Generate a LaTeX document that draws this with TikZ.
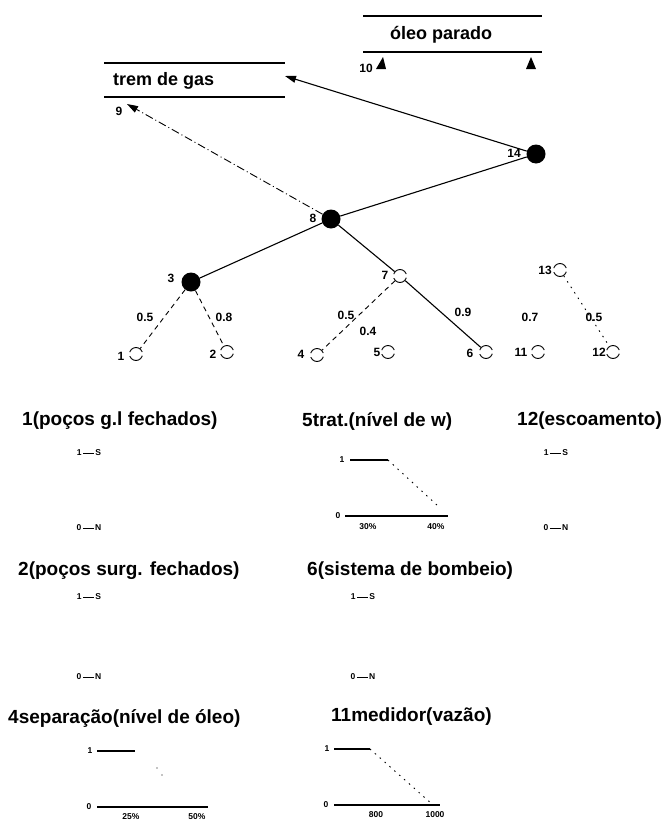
\documentclass[tikz,border=0pt]{standalone}
\usepackage{fontspec}
\setmainfont{Liberation Sans}
\usetikzlibrary{arrows.meta}
\begin{document}
\begin{tikzpicture}[x=1pt,y=-1pt,
  title/.style={font=\fontsize{19}{20}\selectfont\bfseries, anchor=west, inner sep=0},
  boxtext/.style={font=\fontsize{18}{19}\selectfont\bfseries, anchor=west, inner sep=0},
  nlabel/.style={font=\fontsize{12}{12}\selectfont\bfseries, inner sep=0},
  elabel/.style={font=\fontsize{12}{12}\selectfont\bfseries, inner sep=0},
  tiny/.style={font=\fontsize{8.5}{9}\selectfont\bfseries, inner sep=0},
  filled/.style={circle, fill=black, minimum size=19pt, inner sep=0},
  opennode/.style={circle, draw, line width=0.9pt, minimum size=13pt, inner sep=0,
    dash pattern=on 16.42pt off 4pt, dash phase=18.42pt},
  boxline/.style={line width=1.3pt},
  solidedge/.style={line width=1.1pt},
  dashedge/.style={line width=0.9pt, dash pattern=on 5pt off 4pt},
  dashdotedge/.style={line width=0.9pt, dash pattern=on 8pt off 3pt on 1pt off 3pt},
  dotline/.style={line width=0.9pt, dash pattern=on 1.5pt off 5pt},
  axis/.style={line width=1.1pt},
  tip/.style={-{Triangle[length=11pt,width=7pt]}}
]
\useasboundingbox (0,0) rectangle (669,822);

% ---- top boxes ----
\draw[boxline] (363,16) -- (542,16);
\draw[boxline] (363,52) -- (542,52);
\node[boxtext] (oleo) at (390,35) {óleo parado};
\node[nlabel] (l10) at (366,68) {10};
\fill (376,69) -- (383,57) -- (386,69) -- cycle;
\fill (526,69) -- (531,57) -- (536,69) -- cycle;

\draw[boxline] (104,63) -- (285,63);
\draw[boxline] (104,97) -- (285,97);
\node[boxtext] (trem) at (113,81) {trem de gas};
\node[nlabel] (l9) at (119,111) {9};
\coordinate (tremend) at (285,76);
\coordinate (ninetip) at (127,104);

% ---- tree nodes ----
\node[filled] (n14) at (536,154) {};
\node[filled] (n8) at (331,219) {};
\node[filled] (n3) at (191,282) {};
\node[opennode] (n7) at (400,276) {};
\node[opennode] (n13) at (560,270) {};
\node[opennode] (n1) at (136,354) {};
\node[opennode] (n2) at (227,352) {};
\node[opennode] (n4) at (317,355) {};
\node[opennode] (n5) at (388,352) {};
\node[opennode] (n6) at (486,352) {};
\node[opennode] (n11) at (538,352) {};
\node[opennode] (n12) at (613,352) {};

\node[nlabel] at (514,153) {14};
\node[nlabel] at (313,218) {8};
\node[nlabel] at (171,278) {3};
\node[nlabel] at (385,275) {7};
\node[nlabel] at (545,270) {13};
\node[nlabel] at (121,356) {1};
\node[nlabel] at (213,354) {2};
\node[nlabel] at (301,354) {4};
\node[nlabel] at (377,352) {5};
\node[nlabel] at (470,353) {6};
\node[nlabel] at (521,352) {11};
\node[nlabel] at (599,352) {12};

% ---- edges ----
\draw[solidedge, tip] (n14) -- (tremend);
\draw[dashdotedge, tip] (n8) -- (ninetip);
\draw[solidedge] (n8) -- (n14);
\draw[solidedge] (n3) -- (n8);
\draw[solidedge] (n8) -- (n7);
\draw[dashedge] (n3) -- (n1);
\draw[dashedge] (n3) -- (n2);
\draw[dashedge] (n7) -- (n4);
\draw[solidedge] (n7) -- (n6);
\draw[dotline] (n13) -- (n12);

\node[elabel] at (145,317) {0.5};
\node[elabel] at (224,317) {0.8};
\node[elabel] at (346,315) {0.5};
\node[elabel] at (368,331) {0.4};
\node[elabel] at (463,312) {0.9};
\node[elabel] at (530,317) {0.7};
\node[elabel] at (594,317) {0.5};

% ---- bottom charts ----
\node[title] (t1) at (22,421) {1(poços g.l fechados)};
\node[tiny] (s1) at (89,453) {1\,\rule[2.6pt]{11pt}{0.8pt}\,S};
\node[tiny] (z1) at (89,528) {0\,\rule[2.6pt]{11pt}{0.8pt}\,N};

\node[title] (t5) at (302,421) {5trat.(nível de w)};
\node[tiny] (c5y1) at (342,460) {1};
\node[tiny] (c5y0) at (338,516) {0};
\draw[axis] (350,460) -- (388,460);
\draw[dotline] (388,460) -- (438,506);
\draw[axis] (345,516) -- (448,516);
\node[tiny] at (368,527) {30\%};
\node[tiny] at (436,527) {40\%};

\node[title] (t12) at (517,421) {12(escoamento)};
\node[tiny] (s12) at (556,453) {1\,\rule[2.6pt]{11pt}{0.8pt}\,S};
\node[tiny] (z12) at (556,528) {0\,\rule[2.6pt]{11pt}{0.8pt}\,N};

\node[title] (t2) at (18,571) {2(poços surg. fechados)};
\node[tiny] (s2) at (89,597) {1\,\rule[2.6pt]{11pt}{0.8pt}\,S};
\node[tiny] (z2) at (89,677) {0\,\rule[2.6pt]{11pt}{0.8pt}\,N};

\node[title] (t6) at (307,571) {6(sistema de bombeio)};
\node[tiny] (s6) at (363,597) {1\,\rule[2.6pt]{11pt}{0.8pt}\,S};
\node[tiny] (z6) at (363,677) {0\,\rule[2.6pt]{11pt}{0.8pt}\,N};

\node[title] (t4) at (8,718) {4separação(nível de óleo)};
\node[tiny] (c4y1) at (90,751) {1};
\node[tiny] (c4y0) at (89,807) {0};
\draw[axis] (97,751) -- (135,751);
\fill (157,768) circle (0.7pt);
\fill (162,775) circle (0.7pt);
\draw[axis] (97,807) -- (208,807);
\node[tiny] at (131,817) {25\%};
\node[tiny] at (197,817) {50\%};

\node[title] (t11) at (331,717) {11medidor(vazão)};
\node[tiny] (c11y1) at (327,749) {1};
\node[tiny] (c11y0) at (326,805) {0};
\draw[axis] (334,749) -- (370,749);
\draw[dotline] (370,749) -- (432,804);
\draw[axis] (334,805) -- (440,805);
\node[tiny] at (376,815) {800};
\node[tiny] at (435,815) {1000};
\end{tikzpicture}
\end{document}
